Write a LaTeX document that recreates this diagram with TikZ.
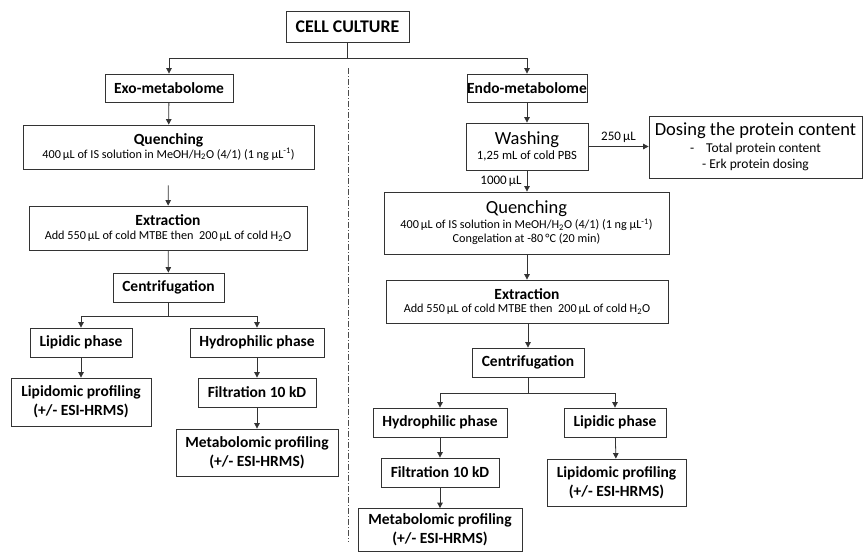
\documentclass[tikz,border=0pt]{standalone}
\usepackage{fontspec}
\setmainfont{Carlito}
\usetikzlibrary{arrows.meta}
\newcommand\ttlfont{\fontsize{15.5}{19}\selectfont\bfseries}
\newcommand\subfont{\fontsize{12.2}{14.5}\selectfont}
\newcommand\washfont{\fontsize{12.6}{15}\selectfont}
\newcommand\dosefont{\fontsize{13.5}{16.5}\selectfont}
\newcommand\lblfont{\fontsize{13}{15}\selectfont}
\newcommand\bigfont{\fontsize{18.5}{21}\selectfont}
\begin{document}
\begin{tikzpicture}[x=1pt,y=-1pt,
  box/.style={draw=black!80, line width=0.8pt, inner sep=0pt, align=center, fill=white},
  arr/.style={-{Triangle[length=5.5pt,width=5.5pt]}, line width=0.8pt, draw=black!80},
  ln/.style={line width=0.8pt, draw=black!80},
  sep/.style={line width=0.7pt, draw=black!70, dash pattern=on 6pt off 2pt on 1pt off 2pt},
  lbl/.style={font=\lblfont, inner sep=1pt}]
\useasboundingbox (0,0) rectangle (863,552);
% top
\node[box, minimum width=123, minimum height=31, font=\fontsize{17.8}{20}\selectfont\bfseries] (cell) at (347.5,26.5) {CELL CULTURE};
\coordinate (split) at (347.5,58);
% left column
\node[box, minimum width=128, minimum height=28, font=\ttlfont] (exo) at (169,88) {Exo-metabolome};
\node[box, minimum width=291, minimum height=44, font=\subfont] (q1) at (168.5,147) {{\ttlfont Quenching}\\[-1pt]400\,µL of IS solution in MeOH/H\textsubscript{2}O (4/1) (1 ng µL\textsuperscript{-1})};
\node[box, minimum width=278, minimum height=44, font=\subfont] (ex1) at (168,228) {{\ttlfont Extraction}\\[-1pt]Add 550\,µL of cold MTBE then\ \ 200\,µL of cold H\textsubscript{2}O};
\node[box, minimum width=111, minimum height=29, font=\ttlfont] (cen1) at (168.5,287.5) {Centrifugation};
\node[box, minimum width=102, minimum height=29, font=\ttlfont] (lip1) at (81,342.5) {Lipidic phase};
\node[box, minimum width=134, minimum height=29, font=\ttlfont] (hyd1) at (257,342.5) {Hydrophilic phase};
\node[box, minimum width=140, minimum height=48, font=\ttlfont] (lpr1) at (81,402) {Lipidomic profiling\\(+/- ESI-HRMS)};
\node[box, minimum width=118, minimum height=29, font=\ttlfont] (fil1) at (257,392.5) {Filtration 10 kD};
\node[box, minimum width=162, minimum height=47, font=\ttlfont] (mpr1) at (257,452.5) {Metabolomic profiling\\(+/- ESI-HRMS)};
% right column
\node[box, minimum width=120, minimum height=28, font=\ttlfont] (endo) at (527,88) {Endo-metabolome};
\node[box, minimum width=122, minimum height=47, font=\washfont] (wash) at (527,146.5) {{\bigfont Washing}\\1,25 mL of cold PBS};
\node[box, minimum width=213, minimum height=62, font=\dosefont] (dose) at (755.5,147) {{\bigfont Dosing the protein content}\\-\hspace{12pt}Total protein content\\- Erk protein dosing};
\node[box, minimum width=285, minimum height=62, font=\subfont] (q2) at (526.5,223) {{\bigfont Quenching}\\400\,µL of IS solution in MeOH/H\textsubscript{2}O (4/1) (1 ng µL\textsuperscript{-1})\\Congelation at -80\,°C (20 min)};
\node[box, minimum width=282, minimum height=43, font=\subfont] (ex2) at (527,301.5) {{\ttlfont Extraction}\\[-1pt]Add 550\,µL of cold MTBE then\ \ 200\,µL of cold H\textsubscript{2}O};
\node[box, minimum width=112, minimum height=29, font=\ttlfont] (cen2) at (528,362.5) {Centrifugation};
\node[box, minimum width=134, minimum height=29, font=\ttlfont] (hyd2) at (440,422.5) {Hydrophilic phase};
\node[box, minimum width=102, minimum height=29, font=\ttlfont] (lip2) at (615,422.5) {Lipidic phase};
\node[box, minimum width=118, minimum height=29, font=\ttlfont] (fil2) at (440,472.5) {Filtration 10 kD};
\node[box, minimum width=164, minimum height=43, font=\ttlfont] (mpr2) at (440,530) {Metabolomic profiling\\(+/- ESI-HRMS)};
\node[box, minimum width=139, minimum height=47, font=\ttlfont] (lpr2) at (616.5,482.5) {Lipidomic profiling\\(+/- ESI-HRMS)};
% separator
\coordinate (septop) at (348,68);
\coordinate (sepbot) at (348,542);
\draw[sep] (septop) -- (sepbot);
% connectors
\draw[ln] (cell.south) -- (split);
\draw[arr] (split) -| (exo.north);
\draw[arr] (split) -| (endo.north);
\draw[arr] (exo) -- (q1);
\draw[arr, shorten <=16pt] (q1) -- (ex1);
\draw[arr] (ex1) -- (cen1);
\coordinate (s1) at (168.5,316);
\draw[ln] (cen1.south) -- (s1);
\draw[arr] (s1) -| (lip1.north);
\draw[arr] (s1) -| (hyd1.north);
\draw[arr] (lip1) -- (lpr1);
\draw[arr] (hyd1) -- (fil1);
\draw[arr] (fil1) -- (mpr1);
\draw[arr] (endo) -- (wash);
\draw[arr] (wash.east) -- (wash.east -| dose.west) node[lbl, midway, above=3pt] {250\,µL};
\draw[arr] (wash.south) -- (q2.north -| wash.south) node[lbl, midway, left=4pt] {1000\,µL};
\draw[arr] (q2.south -| ex2.north) -- (ex2.north);
\draw[arr] (ex2.south -| cen2.north) -- (cen2.north);
\coordinate (s2) at (528,393);
\draw[ln] (cen2.south) -- (s2);
\draw[arr] (s2) -| (hyd2.north);
\draw[arr] (s2) -| (lip2.north);
\draw[arr] (hyd2) -- (fil2);
\draw[arr] (fil2) -- (mpr2);
\draw[arr] (lip2) -- (lpr2);
\end{tikzpicture}
\end{document}
